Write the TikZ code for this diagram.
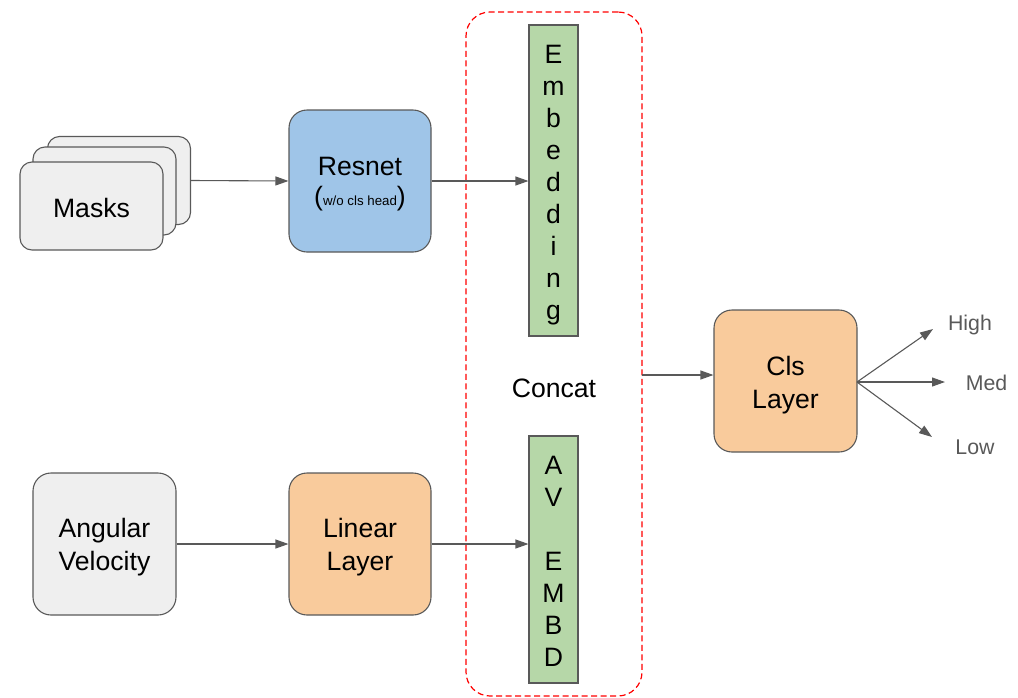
\documentclass[tikz,border=0pt]{standalone}
\usepackage{fontspec}
\setmainfont{Liberation Sans}
\usetikzlibrary{arrows.meta,calc}
\definecolor{bord}{HTML}{595959}
\definecolor{gfill}{HTML}{EFEFEF}
\definecolor{bfill}{HTML}{9FC5E8}
\definecolor{ofill}{HTML}{F9CB9C}
\definecolor{efill}{HTML}{B6D7A8}
\definecolor{lbl}{HTML}{595959}
\definecolor{dred}{HTML}{FF0000}
\newcommand\tup[1]{\rule{0pt}{#1}}
\tikzset{
  big/.style={font=\fontsize{26.6}{33}\selectfont},
  box/.style={draw=bord, line width=1.1pt, rounded corners=18pt, big, align=center, inner sep=0pt},
  card/.style={draw=bord, line width=1.1pt, fill=gfill, rounded corners=12pt, minimum width=143pt, minimum height=88pt, big, inner sep=0pt},
  embbox/.style={draw=bord, line width=1.1pt, fill=efill, minimum width=49pt, inner sep=0pt, align=center, font=\fontsize{26.6}{32}\selectfont},
  conn/.style={draw=bord, line width=1.1pt, -{Triangle[length=13pt,width=9pt]}},
  outlbl/.style={text=lbl, font=\fontsize{21.3}{25}\selectfont, inner sep=0pt},
}
\begin{document}
\begin{tikzpicture}[x=1pt,y=-1pt]
\useasboundingbox (0,0) rectangle (1018,697);
% dashed concat region
\node (cbox) [draw=dred, line width=1.2pt, dash pattern=on 6pt off 3.5pt, rounded corners=24pt, minimum width=176pt, minimum height=684pt, inner sep=0pt] at (554,354) {};
% masks stack
\node (mback) [card] at (119,180.5) {};
\node (mmid) [card] at (104.5,191) {};
\node (masks) [card] at (91.5,206) {\tup{23pt}Masks};
% resnet
\node (resnet) [box, fill=bfill, minimum width=142pt, minimum height=142pt] at (360,181)
  {\tup{25pt}Resnet\\[-3pt]{\fontsize{26.6}{32}\selectfont(}{\fontsize{13.3}{16}\selectfont w/o cls head}{\fontsize{26.6}{32}\selectfont)}};
% embedding
\node (emb) [embbox, minimum height=311pt] at (553.5,180.5) {\tup{27.5pt}E\\m\\b\\e\\d\\d\\i\\n\\g};
% concat label
\node (concat) [big, inner sep=0pt] at (554,388) {Concat};
% AV embedding
\node (avemb) [embbox, minimum height=247pt] at (553.5,559.5) {\tup{21pt}A\\V\\\strut\\E\\M\\B\\D};
% angular velocity
\node (angvel) [box, fill=gfill, minimum width=143pt, minimum height=142pt] at (104.5,544) {\tup{25.5pt}Angular\\Velocity};
% linear layer
\node (linear) [box, fill=ofill, minimum width=142pt, minimum height=142pt] at (360,544) {\tup{25.5pt}Linear\\Layer};
% cls layer
\node (cls) [box, fill=ofill, minimum width=143pt, minimum height=142pt] at (785.5,381) {\tup{27pt}Cls\\Layer};
% outputs
\coordinate (clsout) at (857,382);
\coordinate (thigh) at (933,329);
\coordinate (tmed) at (945,382);
\coordinate (tlow) at (932,437);
\node (high) [outlbl] at (970,325) {High};
\node (med) [outlbl] at (986.5,383) {Med};
\node (low) [outlbl] at (975,447) {Low};
% connectors
\draw[conn] (mback.east) -- (resnet.west);
\draw[conn] (resnet.east) -- (resnet.east -| emb.west);
\draw[conn] (angvel.east) -- (linear.west);
\draw[conn] (linear.east) -- (linear.east -| avemb.west);
\coordinate (cin) at (642,375);
\draw[conn] (cin) -- (cin -| cls.west);
\draw[conn] (clsout) -- (thigh);
\draw[conn] (clsout) -- (tmed);
\draw[conn] (clsout) -- (tlow);
\end{tikzpicture}
\end{document}
